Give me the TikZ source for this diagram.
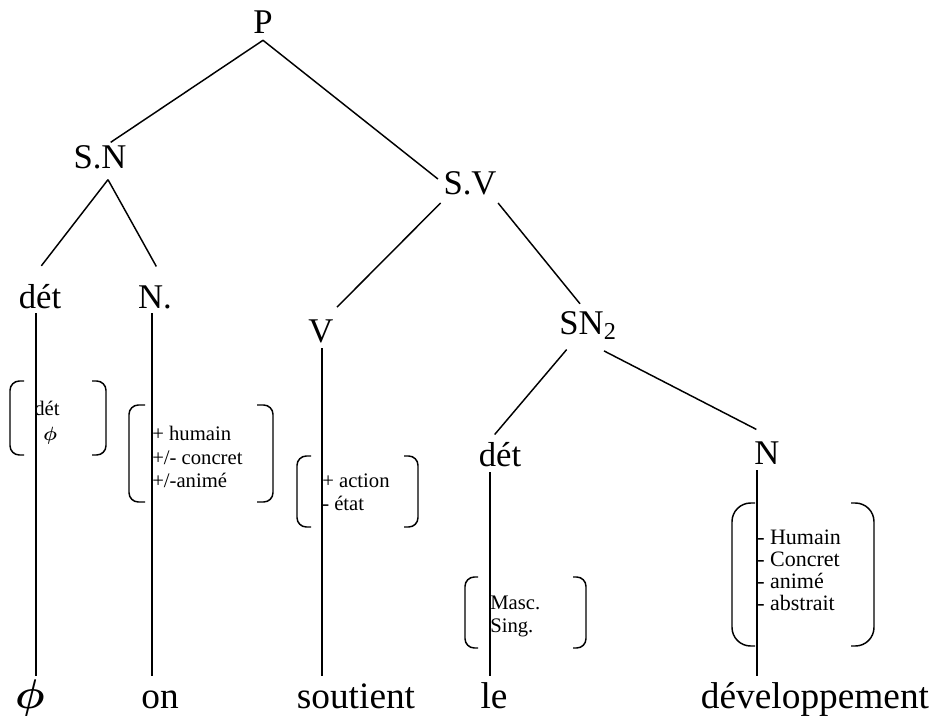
\documentclass[tikz,border=0pt]{standalone}
\usepackage{amsmath}
\usepackage{fontspec}
\setmainfont{Liberation Serif}
\begin{document}
\begin{tikzpicture}[x=0.75pt,y=-0.75pt,
  lbl/.style={font=\fontsize{26}{28}\selectfont, inner sep=4pt},
  word/.style={font=\fontsize{28}{30}\selectfont, inner sep=0pt, anchor=base},
  feat/.style={font=\fontsize{15.5}{17}\selectfont, inner sep=0pt, anchor=base west},
  bigfeat/.style={feat, font=\fontsize{16.5}{18}\selectfont},
  edge/.style={line width=1.1pt},
  brk/.style={line width=1.1pt, rounded corners=7pt},
  bigbrk/.style={line width=1.1pt, rounded corners=14pt}]
\useasboundingbox (0,0) rectangle (933,715);
% tree labels
\node[lbl] (P) at (263,22) {P};
\node[lbl] (SN) at (100,157) {S.N};
\node[lbl] (SV) at (470,183) {S.V};
\node[lbl] (det1) at (40,297) {dét};
\node[lbl] (N1) at (155,297) {N.};
\node[lbl] (V) at (321,331) {V};
\node[lbl] (SN2) at (588,326) {SN\textsubscript{2}};
\node[lbl] (det2) at (500,455) {dét};
\node[lbl] (N2) at (767,453) {N};
% tree edges
\coordinate (Pa) at ([yshift=-1pt]P.south);
\coordinate (SNa) at ([xshift=6pt,yshift=-4pt]SN.south);
\draw[edge] (Pa) -- ([xshift=8pt,yshift=-2pt]SN.north);
\draw[edge] (Pa) -- ([xshift=0pt,yshift=-10pt]SV.north west);
\draw[edge] (SNa) -- ([xshift=1pt,yshift=10pt]det1.north);
\draw[edge] (SNa) -- ([xshift=1pt,yshift=10pt]N1.north);
\draw[edge] ([xshift=2pt,yshift=-2pt]SV.south west) -- ([xshift=12pt,yshift=5pt]V.north);
\draw[edge] ([xshift=-3pt,yshift=-2pt]SV.south east) -- ([xshift=-6pt,yshift=2pt]SN2.north);
\draw[edge] ([xshift=-16pt,yshift=-3pt]SN2.south) -- ([xshift=-4pt,yshift=2pt]det2.north);
\draw[edge] ([xshift=12pt,yshift=-4pt]SN2.south) -- ([xshift=-8pt,yshift=5pt]N2.north);
% vertical lines
\coordinate (v1t) at (36,313); \coordinate (v1b) at (36,676);
\coordinate (v2t) at (152,313); \coordinate (v2b) at (152,676);
\coordinate (v3t) at (322,348); \coordinate (v3b) at (322,676);
\coordinate (v4t) at (490,472); \coordinate (v4b) at (490,676);
\coordinate (v5t) at (757,470); \coordinate (v5b) at (757,676);
\draw[edge] (v1t) -- (v1b);
\draw[edge] (v2t) -- (v2b);
\draw[edge] (v3t) -- (v3b);
\draw[edge] (v4t) -- (v4b);
\draw[edge] (v5t) -- (v5b);
% bottom words
\node[word, scale=1.25] (w1) at (30,708) {$\boldsymbol{\phi}$};
\node[word] (w2) at (160,708) {on};
\node[word] (w3) at (356,708) {soutient};
\node[word] (w4) at (494,708) {le};
\node[word] (w5) at (815,708) {développement};
% bracket 1
\draw[brk] (24,381) -- (10,381) -- (10,455) -- (24,455);
\draw[brk] (92,381) -- (106,381) -- (106,455) -- (92,455);
\node[feat] (f1a) at (34,415) {dét};
\node[feat] (f1b) at (43,440) {$\boldsymbol{\phi}$};
% bracket 2
\draw[brk] (145,405) -- (129,405) -- (129,502) -- (145,502);
\draw[brk] (257,405) -- (273,405) -- (273,502) -- (257,502);
\node[feat] (f2a) at (152,440) {+ humain};
\node[feat] (f2b) at (152,464) {+/- concret};
\node[feat] (f2c) at (152,487) {+/-animé};
% bracket 3
\draw[brk] (311,456) -- (297,456) -- (297,527) -- (311,527);
\draw[brk] (404,456) -- (418,456) -- (418,527) -- (404,527);
\node[feat] (f3a) at (322,487) {+ action};
\node[feat] (f3b) at (322,510) {- état};
% bracket 4
\draw[brk] (478,577) -- (465,577) -- (465,648) -- (478,648);
\draw[brk] (573,577) -- (586,577) -- (586,648) -- (573,648);
\node[feat] (f4a) at (490,609) {Masc.};
\node[feat] (f4b) at (490,632) {Sing.};
% bracket 5
\draw[bigbrk] (755,503) -- (732,503) -- (732,646) -- (755,646);
\draw[bigbrk] (851,503) -- (874,503) -- (874,646) -- (851,646);
\node[bigfeat] (f5a) at (757,544) {- Humain};
\node[bigfeat] (f5b) at (757,566) {- Concret};
\node[bigfeat] (f5c) at (757,588) {- animé};
\node[bigfeat] (f5d) at (757,610) {- abstrait};
\end{tikzpicture}
\end{document}
